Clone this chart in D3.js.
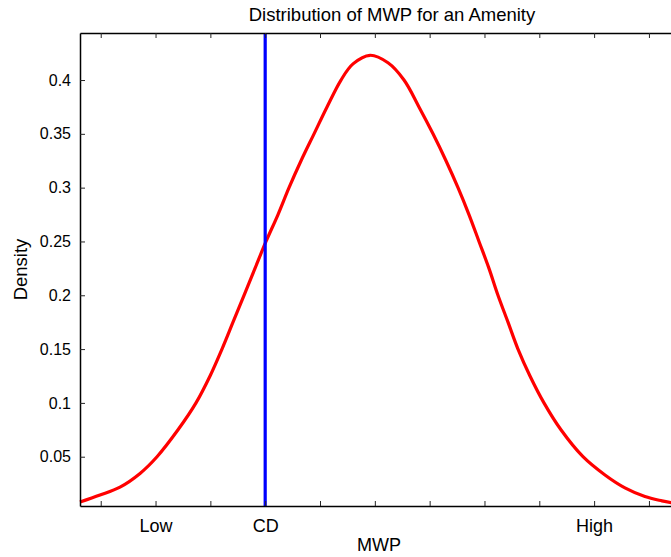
<!DOCTYPE html>
<html><head><meta charset="utf-8">
<script src="https://cdn.jsdelivr.net/npm/d3@7"></script>
<style>
html,body{margin:0;padding:0;background:#fff;}
svg{display:block;}
text{font-family:"Liberation Sans",Arial,Helvetica,sans-serif;fill:#000;}
</style></head>
<body>
<script>
// Data
const mwp = [0.622, 0.987, 1.352, 1.717, 2.027, 2.410, 2.738, 2.994, 3.212, 3.413, 3.614, 3.814, 4.015, 4.234, 4.435, 4.654, 4.891, 5.128, 5.383, 5.602, 5.912, 6.240, 6.532, 6.805, 7.061, 7.298, 7.517, 7.717, 7.900, 8.082, 8.246, 8.429, 8.611, 8.830, 9.085, 9.395, 9.797, 10.198, 10.562, 10.927, 11.237, 11.530];
const density = [0.0079, 0.0144, 0.0218, 0.0345, 0.05, 0.075, 0.10, 0.125, 0.15, 0.175, 0.20, 0.225, 0.25, 0.275, 0.30, 0.325, 0.35, 0.375, 0.40, 0.415, 0.423, 0.416, 0.40, 0.375, 0.35, 0.325, 0.30, 0.275, 0.25, 0.225, 0.20, 0.175, 0.15, 0.125, 0.10, 0.075, 0.05, 0.033, 0.021, 0.013, 0.0090, 0.0061];
const xTickValues = [1, 2, 3, 4, 5, 6, 7, 8, 9, 10, 11];
const xTickLabels = ["", "Low", "", "CD", "", "", "", "", "", "High", ""];
const yTickValues = [0.05, 0.1, 0.15, 0.2, 0.25, 0.3, 0.35, 0.4];
const yTickLabels = ["0.05", "0.1", "0.15", "0.2", "0.25", "0.3", "0.35", "0.4"];
const cdValue = 4;
const xDomain = [0.622, 11.53];
const yDomain = [0.0042, 0.4437];

const W = 671, H = 557;
const L = 80, R = 678, T = 33, B = 506;

const svg = d3.select("body").append("svg").attr("width", W).attr("height", H);

const x = d3.scaleLinear().domain(xDomain).range([L, R]);
const y = d3.scaleLinear().domain(yDomain).range([B, T]);

// curve
const line = d3.line().x(d => x(d[0])).y(d => y(d[1])).curve(d3.curveCatmullRom.alpha(0.5));
svg.append("path")
  .datum(mwp.map((v, i) => [v, density[i]]))
  .attr("fill", "none").attr("stroke", "#ff0000").attr("stroke-width", 3.2)
  .attr("stroke-linejoin", "round")
  .attr("d", line);

// CD vertical line
svg.append("line")
  .attr("x1", x(cdValue)).attr("x2", x(cdValue))
  .attr("y1", y(yDomain[1])).attr("y2", y(yDomain[0]))
  .attr("stroke", "#0000ff").attr("stroke-width", 3.2);

// bottom axis
const xAxis = d3.axisBottom(x).tickValues(xTickValues)
  .tickFormat((d, i) => xTickLabels[i]).tickSizeInner(-5).tickSizeOuter(0).tickPadding(13);
const gx = svg.append("g").attr("transform", `translate(0,${B})`).call(xAxis);
gx.select(".domain").attr("stroke", "#000").attr("stroke-width", 1.5);
gx.selectAll(".tick line").attr("stroke", "#262626").attr("stroke-width", 1);
gx.selectAll(".tick text").attr("font-size", 18).attr("dy", "0.71em").attr("fill", "#000");

// top axis (ticks only)
const xTop = d3.axisTop(x).tickValues(xTickValues).tickFormat("").tickSizeInner(-5).tickSizeOuter(0);
const gt = svg.append("g").attr("transform", `translate(0,${T})`).call(xTop);
gt.select(".domain").attr("stroke", "#000").attr("stroke-width", 1.5);
gt.selectAll(".tick line").attr("stroke", "#262626").attr("stroke-width", 1);

// left axis
const yAxis = d3.axisLeft(y).tickValues(yTickValues)
  .tickFormat((d, i) => yTickLabels[i]).tickSizeInner(-5).tickSizeOuter(0).tickPadding(9);
const gy = svg.append("g").attr("transform", `translate(${L},0)`).call(yAxis);
gy.select(".domain").attr("stroke", "#000").attr("stroke-width", 1.5);
gy.selectAll(".tick line").attr("stroke", "#262626").attr("stroke-width", 1);
gy.selectAll(".tick text").attr("font-size", 16).attr("fill", "#000");

// labels
svg.append("text").attr("x", 392).attr("y", 21).attr("text-anchor", "middle")
  .attr("font-size", 18.5).text("Distribution of MWP for an Amenity");
svg.append("text").attr("x", 379).attr("y", 551).attr("text-anchor", "middle")
  .attr("font-size", 18).text("MWP");
svg.append("text").attr("transform", `translate(27,${(T + B) / 2}) rotate(-90)`)
  .attr("text-anchor", "middle").attr("font-size", 18.5).text("Density");
</script>
</body></html>
